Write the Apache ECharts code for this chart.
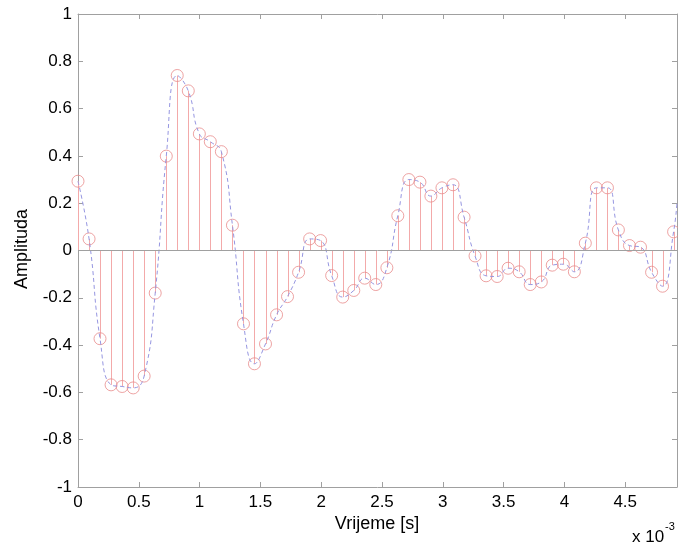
<!DOCTYPE html>
<html>
<head>
<meta charset="utf-8">
<script src="https://cdn.jsdelivr.net/npm/echarts@6/dist/echarts.min.js"></script>
<style>html,body{margin:0;padding:0;background:#fff}#c{width:678px;height:546px}</style>
</head>
<body>
<div id="c"></div>
<script>
// time of each sample, in milliseconds (axis is labelled x 10^-3 s)
var timeMs = [0,0.091,0.181,0.272,0.363,0.454,0.544,0.635,0.726,0.816,0.907,0.998,1.088,1.179,1.270,1.361,1.451,1.542,1.633,1.723,1.814,1.905,1.995,2.086,2.177,2.268,2.358,2.449,2.540,2.630,2.721,2.812,2.902,2.993,3.084,3.175,3.265,3.356,3.447,3.537,3.628,3.719,3.810,3.900,3.991,4.082,4.172,4.263,4.354,4.444,4.535,4.626,4.717,4.807,4.898];
var amplitude = [0.293,0.049,-0.373,-0.568,-0.575,-0.581,-0.531,-0.180,0.399,0.740,0.675,0.493,0.460,0.418,0.107,-0.310,-0.479,-0.395,-0.272,-0.195,-0.092,0.049,0.042,-0.106,-0.197,-0.169,-0.117,-0.144,-0.073,0.147,0.300,0.289,0.230,0.265,0.278,0.141,-0.023,-0.107,-0.110,-0.075,-0.090,-0.144,-0.133,-0.062,-0.058,-0.090,0.031,0.265,0.265,0.087,0.021,0.014,-0.092,-0.151,0.079];
// where the dashed curve leaves the plot at the right edge
var curveEndTime = [4.926];
var curveEndValue = [0.204];
var xTicks = ['0','0.5','1','1.5','2','2.5','3','3.5','4','4.5'];
var yTicks = ['-1','-0.8','-0.6','-0.4','-0.2','0','0.2','0.4','0.6','0.8','1'];
var xMax = 4.926;

var samples = timeMs.map(function(t,i){return [t, amplitude[i]];});
var curve = samples.concat(curveEndTime.map(function(t,i){return [t, curveEndValue[i]];}));

var axisGray = '#a0a0a0';
var font = 'Liberation Sans, Arial, sans-serif';

function xFmt(v){
  var k = Math.round(v*2);
  if (Math.abs(v*2 - k) > 1e-6) return '';
  return xTicks[k] !== undefined ? xTicks[k] : '';
}
function yFmt(v){
  var k = Math.round((v+1)*5);
  return yTicks[k] !== undefined ? yTicks[k] : '';
}

var chart = echarts.init(document.getElementById('c'), null, {renderer:'canvas'});
chart.setOption({
  animation:false,
  backgroundColor:'#fff',
  grid:{left:78, right:1, top:14, bottom:59, containLabel:false},
  xAxis:[
    {type:'value', min:0, max:xMax, interval:0.5, position:'bottom',
     axisLine:{show:true, onZero:false, lineStyle:{color:axisGray, width:1}},
     axisTick:{show:true, inside:true, length:5, lineStyle:{color:axisGray}},
     splitLine:{show:false},
     axisLabel:{color:'#000', fontSize:17, fontFamily:font, margin:7, formatter:xFmt, showMaxLabel:false}},
    {type:'value', min:0, max:xMax, interval:0.5, position:'top',
     axisLine:{show:true, onZero:false, lineStyle:{color:axisGray, width:1}},
     axisTick:{show:true, inside:true, length:5, lineStyle:{color:axisGray}},
     splitLine:{show:false}, axisLabel:{show:false}}
  ],
  yAxis:[
    {type:'value', min:-1, max:1, interval:0.2, position:'left',
     axisLine:{show:true, onZero:false, lineStyle:{color:axisGray, width:1}},
     axisTick:{show:true, inside:true, length:5, lineStyle:{color:axisGray}},
     splitLine:{show:false},
     axisLabel:{color:'#000', fontSize:17, fontFamily:font, margin:6, formatter:yFmt}},
    {type:'value', min:-1, max:1, interval:0.2, position:'right',
     axisLine:{show:true, onZero:false, lineStyle:{color:axisGray, width:1}},
     axisTick:{show:true, inside:true, length:5, lineStyle:{color:axisGray}},
     splitLine:{show:false}, axisLabel:{show:false}}
  ],
  series:[
    {type:'custom', xAxisIndex:0, yAxisIndex:0, data:samples, z:2, silent:true,
     renderItem:function(params, api){
       var p0 = api.coord([api.value(0), 0]);
       var p1 = api.coord([api.value(0), api.value(1)]);
       return {type:'line', shape:{x1:Math.round(p0[0])+0.5, y1:p0[1], x2:Math.round(p1[0])+0.5, y2:p1[1]},
               style:{stroke:'rgb(243,170,170)', lineWidth:1}};
     },
     markLine:{silent:true, symbol:['none','none'], label:{show:false},
       lineStyle:{color:'#a0a0a0', type:'solid', width:1},
       data:[{yAxis:0}]}
    },
    {type:'scatter', xAxisIndex:0, yAxisIndex:0, data:samples, z:3,
     symbol:'circle', symbolSize:12,
     itemStyle:{color:'rgba(255,255,255,0)', borderColor:'rgb(232,140,140)', borderWidth:1}},
    {type:'line', xAxisIndex:0, yAxisIndex:0, data:curve, z:4, smooth:0.5,
     showSymbol:false, symbol:'none',
     lineStyle:{color:'rgb(150,150,225)', width:1, type:[4,3]}}
  ],
  graphic:[
    {type:'text', x:377, y:524, style:{text:'Vrijeme [s]', fontSize:18, fontFamily:font, fill:'#000', textAlign:'center', textVerticalAlign:'middle'}},
    {type:'text', x:22, y:249, rotation:Math.PI/2, style:{text:'Amplituda', fontSize:18, fontFamily:font, fill:'#000', textAlign:'center', textVerticalAlign:'middle'}},
    {type:'text', x:632, y:537, style:{text:'x 10', fontSize:17, fontFamily:font, fill:'#000', textAlign:'left', textVerticalAlign:'middle'}},
    {type:'text', x:665, y:527, style:{text:'-3', fontSize:11, fontFamily:font, fill:'#000', textAlign:'left', textVerticalAlign:'middle'}}
  ]
});
</script>
</body>
</html>
